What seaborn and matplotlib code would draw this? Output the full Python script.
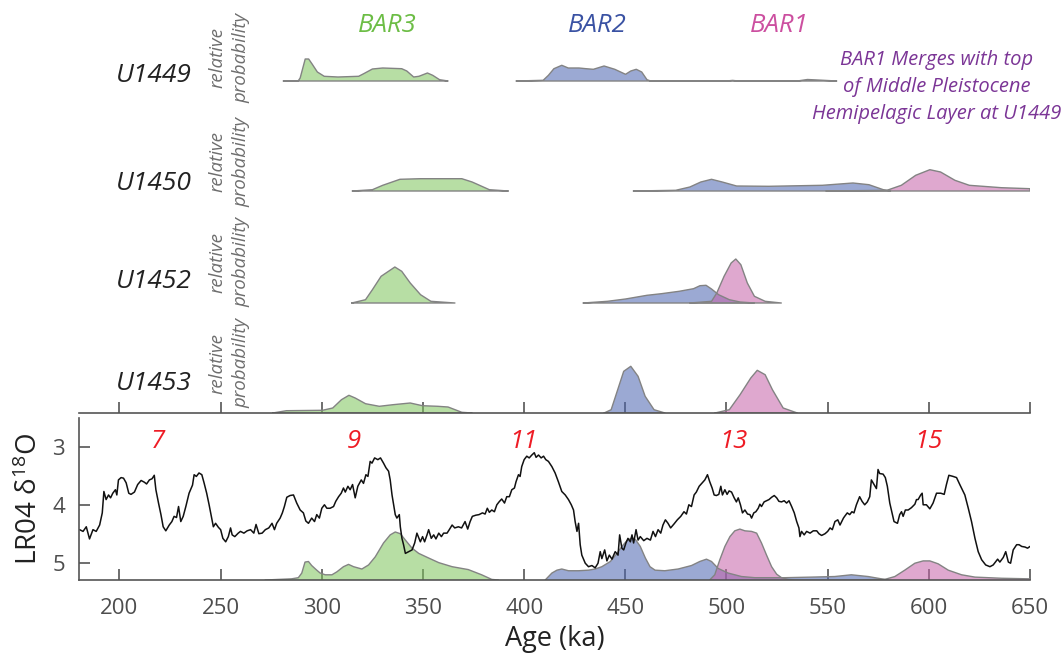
import numpy as np
import pandas as pd
import matplotlib
matplotlib.use("Agg")
import matplotlib.pyplot as plt
import seaborn as sns

# ---- data ----
# LR04 benthic d18O stack
lr04_age = [180.3, 182, 183.6, 185.2, 186.9, 188.5, 190.2, 191.5, 192.3, 193.4, 194.6, 195.6, 196.7, 198, 198.7,
            199.5, 200.8, 202, 203.3, 204.6, 205.7, 207.4, 209, 210.7, 212.3, 213.4, 214.8, 216.1, 217.2, 218,
            219.3, 220.5, 221.6, 222.9, 224.6, 225.9, 227, 228.2, 229.2, 230.3, 231.5, 232.8, 234.4, 236.1, 236.9,
            238, 239.3, 240.7, 241.8, 243.1, 244.3, 245.6, 246.4, 247.5, 248.9, 250, 251.1, 252.5, 253.8, 254.9,
            255.7, 257, 258.7, 259.8, 261.5, 263.1, 264.8, 266.4, 267.5, 268.9, 270.5, 272.1, 273.8, 275.4, 276.6,
            277.7, 279.4, 280.5, 281.5, 282.7, 284.3, 286, 287.6, 289.3, 290.9, 292.1, 293.4, 295, 296.4, 297.5,
            298.8, 300, 301.3, 302.5, 304.1, 305.8, 306.9, 308.3, 309.6, 310.7, 311.6, 312.9, 314, 315.2, 316.5,
            317.8, 319.5, 320.6, 321.8, 322.8, 323.9, 324.8, 326.1, 327.7, 329, 330.5, 331.7, 333, 333.8, 334.7,
            335.5, 336.3, 337.1, 338.3, 338.8, 339.6, 340.4, 341.3, 342.9, 344.6, 345.9, 347, 348.7, 349.8, 350.8,
            352, 352.8, 354.1, 355.3, 356.4, 357.8, 359.1, 360.2, 361.9, 363, 364.4, 365.7,
            367.5, 369.1, 370.8, 372.1, 373.3, 374.4, 376.1, 377.7, 379.4, 380.7, 381.8, 382.8, 384, 385.3, 386.5,
            387.6, 388.9, 390.3, 391.4, 392.7, 393.9, 395.2, 396, 397.2, 398, 398.8, 400, 401.3, 402.5, 403.8,
            405, 405.9, 407.1, 408.4, 409.6, 410.7, 412, 413.7, 415.3, 416.9, 418.6, 420.3, 421.9, 423.3, 424.4,
            425.2, 426.1, 426.9, 427.7, 428.5, 430.2, 431.8, 433.5, 435.1, 436.5, 437.6, 438.4, 439.8, 440.9, 442.1,
            443.4, 445, 446.4, 447.2, 448.3, 449.2, 450.3, 451.3, 452.5, 453.3, 454.1, 455.3, 456.3, 457.4, 459.1,
            460.7, 462.4, 463.7, 464.9, 466.2, 467.5, 468.6, 469.8, 471.1, 472.4, 474.1, 475.7, 477.4, 479, 480.2,
            481.4, 482.7, 484, 485.1, 486.5, 488, 489.3, 490.6, 491.7, 492.9, 493.9, 495, 496.2, 497.2, 498,
            499.2, 500.3, 501.3, 502.5, 503.8, 504.9, 505.8, 506.9, 507.9, 509.1, 510.4, 511.6, 512.4, 513.5, 514.5,
            515.7, 516.5, 517.3, 518.6, 519.8, 521, 522.3, 523.6, 524.8, 525.9, 527.2, 528.5, 529.7, 530.9, 532.2,
            533.5, 534.7, 535.8, 536.3, 537.1, 538.4, 539.6, 541.3, 542.9, 544.6, 545.7, 547, 548.7, 550, 551.2,
            552.3, 553.6, 555, 556.1, 557.8, 558.4, 559.7, 560.9, 562, 563, 564.2, 565.8, 567, 568.3, 569.6,
            570.8, 571.6, 572.9, 574.1, 574.9, 575.7, 577.4, 578.5, 579.5, 580.7, 581.8, 582.8, 584.5, 585.6, 586.5,
            587.3, 588.4, 589.8, 591.4, 593.1, 593.9, 594.7, 596, 596.7, 597.2, 598.8, 600.5, 602.1, 603.8, 605.9,
            607.6, 608.7, 609.9, 612, 613.7, 615.3, 617.8, 619.5, 621.1, 622.8, 624.4, 626.1, 628.1, 630.2, 631.8,
            634, 635.1, 636.8, 638, 639.3, 640.4, 641.7, 643.4, 644.6, 645.9, 647.5, 648.8, 650]
lr04_d18o = [4.43, 4.46, 4.38, 4.59, 4.43, 4.46, 4.35, 4.14, 3.77, 3.91, 3.83, 3.88, 3.80, 3.74, 3.83,
             3.57, 3.53, 3.54, 3.62, 3.80, 3.82, 3.78, 3.65, 3.58, 3.61, 3.64, 3.57, 3.55, 3.49, 3.74,
             3.97, 4.17, 4.38, 4.45, 4.35, 4.29, 4.20, 4.22, 4.03, 4.29, 4.20, 4.03, 3.80, 3.66, 3.48,
             3.51, 3.45, 3.48, 3.62, 3.80, 4.00, 4.23, 4.38, 4.32, 4.39, 4.43, 4.58, 4.64, 4.55, 4.40,
             4.52, 4.55, 4.49, 4.46, 4.49, 4.45, 4.43, 4.49, 4.34, 4.50, 4.49, 4.43, 4.40, 4.32, 4.43,
             4.32, 4.23, 4.14, 4.03, 3.87, 3.84, 3.83, 3.97, 4.09, 4.14, 4.28, 4.32, 4.23, 4.29, 4.17,
             4.23, 4.06, 4.00, 4.06, 4.06, 4.03, 3.94, 3.86, 3.80, 3.71, 3.78, 3.68, 3.74, 3.65, 3.88,
             3.68, 3.57, 3.63, 3.48, 3.51, 3.25, 3.28, 3.19, 3.22, 3.19, 3.28, 3.36, 3.42, 3.57, 3.83,
             4.00, 4.17, 4.23, 4.17, 4.38, 4.58, 4.69, 4.84, 4.81, 4.78, 4.66, 4.49, 4.64, 4.55, 4.64,
             4.52, 4.43, 4.58, 4.52, 4.59, 4.49, 4.55, 4.49, 4.49, 4.43, 4.35, 4.40,
             4.38, 4.40, 4.29, 4.42, 4.29, 4.20, 4.18, 4.17, 4.14, 4.16, 4.06, 4.13, 4.09, 4.12, 4.00,
             3.95, 3.90, 3.97, 3.86, 3.86, 3.74, 3.71, 3.60, 3.48, 3.51, 3.34, 3.22, 3.16, 3.19, 3.14,
             3.10, 3.18, 3.14, 3.19, 3.16, 3.22, 3.25, 3.34, 3.45, 3.60, 3.77, 3.83, 3.91, 4.00, 4.09,
             4.29, 4.46, 4.32, 4.69, 4.87, 5.01, 5.07, 5.05, 5.09, 5.01, 4.81, 4.93, 4.78, 4.97, 4.87,
             4.94, 4.81, 4.87, 4.52, 4.75, 4.78, 4.66, 4.58, 4.64, 4.52, 4.66, 4.43, 4.61, 4.55, 4.62,
             4.58, 4.61, 4.46, 4.55, 4.43, 4.49, 4.35, 4.26, 4.32, 4.40, 4.33, 4.26, 4.20, 4.12, 4.16,
             4.00, 4.03, 3.83, 3.78, 3.68, 3.62, 3.57, 3.48, 3.60, 3.71, 3.83, 3.84, 3.82, 3.68, 3.83,
             3.74, 3.82, 3.76, 3.78, 3.88, 3.95, 3.88, 4.00, 4.14, 4.09, 4.16, 4.17, 4.23, 4.14, 4.12,
             4.06, 3.99, 4.03, 3.95, 3.93, 3.91, 3.87, 3.84, 3.88, 3.94, 3.95, 3.93, 3.97, 3.93, 4.03,
             4.14, 4.29, 4.40, 4.55, 4.46, 4.52, 4.46, 4.49, 4.45, 4.45, 4.50, 4.53, 4.50, 4.46, 4.40,
             4.43, 4.29, 4.26, 4.35, 4.23, 4.20, 4.14, 4.17, 4.12, 4.14, 4.00, 3.86, 3.94, 4.00, 3.95,
             3.86, 3.57, 3.65, 3.72, 3.39, 3.46, 3.47, 3.53, 3.68, 3.97, 4.14, 4.29, 4.32, 4.17, 4.12,
             4.20, 4.09, 4.09, 4.05, 3.99, 3.91, 3.91, 3.83, 3.80, 4.00, 4.00, 4.07, 3.97, 3.80, 3.80,
             3.82, 3.65, 3.49, 3.51, 3.53, 3.65, 3.83, 4.06, 4.29, 4.58, 4.81, 4.95, 5.04, 5.07, 5.04,
             4.94, 4.99, 4.91, 4.81, 4.99, 5.01, 4.78, 4.69, 4.69, 4.72, 4.73, 4.75, 4.72]

# marine isotope stages (label, age)
mis_labels = ["7", "9", "11", "13", "15"]
mis_ages = [218.8, 315.6, 399.6, 503.4, 599.7]

sites = ["U1449", "U1450", "U1452", "U1453"]

# relative probability per site and BAR (age, value)
u1449_bar3_age = [281, 288.4, 289.3, 291.8, 293.5, 295.2, 297.8, 301.2, 308, 318.2, 320.7, 325, 330.1, 339.5,
                  342, 345.4, 348, 352.2, 354.8, 358.2, 362.4]
u1449_bar3_p = [0, 0.3, 3, 22, 22, 17, 9, 4.7, 4, 4.7, 7.3, 12, 13, 12.3, 10, 4, 4.7, 8, 5.7, 1.3, 0]
u1449_bar2_age = [396.1, 409.4, 412, 414.7, 418.6, 421.8, 427.1, 430.6, 434.2, 439.5, 444.8, 450.1, 452.7, 455.4,
                  458.1, 460.7, 462.5, 500, 503, 506, 535, 540, 547, 554.5]
u1449_bar2_p = [0, 0.7, 5.7, 12.3, 15.7, 13, 13, 12.3, 11.7, 15, 11.7, 6.7, 10, 11.7, 9, 1.3, 0, 0, 0.6, 0, 0,
                1.5, 0.8, 0]

u1450_bar3_age = [315.1, 325, 330.1, 338.6, 348.8, 362.4, 369.2, 374.3, 382.8, 392.2]
u1450_bar3_p = [0, 1.3, 5.7, 11.7, 12.3, 12.3, 12.3, 9, 1.3, 0]
u1450_bar2_age = [454, 474.9, 481.9, 487.3, 492.6, 497.9, 505, 520.9, 547.4, 562.5, 570.4, 577.5, 581.1]
u1450_bar2_p = [0, 0.7, 4, 9, 11.7, 9, 5, 4.7, 5.7, 8, 6.3, 1.3, 0]
u1450_bar1_age = [549.2, 579.3, 586.4, 593.5, 600.5, 605.8, 612.9, 620, 635.9, 650]
u1450_bar1_p = [0, 0.7, 5.7, 15.7, 21.3, 19, 10.7, 5.7, 3.3, 2.3]

u1452_bar3_age = [314.8, 321.6, 325, 329.3, 336.1, 339.5, 343.7, 348.8, 353.9, 365.8]
u1452_bar3_p = [0, 3.3, 13.3, 26.7, 36, 31.7, 20, 8.3, 1.7, 0]
u1452_bar2_age = [429.2, 441.2, 450.1, 460.7, 467.8, 476.6, 483.7, 486.9, 489.9, 492.6, 496.1, 501.4, 506.7, 513.8]
u1452_bar2_p = [0, 1.7, 4, 7.7, 9.3, 11.7, 14.3, 17.3, 17.7, 14, 8.3, 3.3, 1, 0]
u1452_bar1_age = [481.9, 492.6, 495.2, 498.8, 502.3, 504.6, 507.1, 510.3, 513.8, 519.1, 527.1]
u1452_bar1_p = [0, 1.7, 10, 26.7, 40, 44, 38.3, 20, 6.7, 1.7, 0]

u1453_bar3_age = [275.7, 282.5, 300.3, 305.4, 309.7, 313.4, 316.5, 321.6, 328.4, 335.2, 343.7, 349.7, 357.3,
                  362.4, 369.2, 374.3]
u1453_bar3_p = [0, 2.3, 2.7, 5, 13.3, 17.7, 15, 9.3, 6.7, 8.3, 10, 7.3, 6.7, 6, 0.7, 0]
u1453_bar2_age = [439.5, 443, 445.7, 449.2, 452.7, 456.3, 459.8, 464.2, 469.6]
u1453_bar2_p = [0, 3.3, 20, 41.7, 46.7, 36.7, 16.7, 3.3, 0]
u1453_bar1_age = [494.3, 501.4, 506.7, 512, 515.2, 519.1, 522.7, 528, 535]
u1453_bar1_p = [0, 3.3, 18.3, 35, 42.7, 38.3, 23.3, 5, 0]

# summed probabilities drawn in the LR04 panel (upper edge, in d18O units)
stack_bar3_age = [272, 285, 288.4, 290.1, 291.7, 293.4, 295, 297.5, 299.2, 301.7, 305, 307.4, 310.7, 313.2,
                  315.7, 319.8, 323.1, 326.4, 330.5, 333.8, 336.3, 338.8, 341.3, 344.6, 347.9, 352.8, 357.8,
                  364.4, 372.4, 379, 384, 387.3]
stack_bar3_d18o = [5.30, 5.28, 5.26, 5.18, 4.99, 4.98, 5.05, 5.13, 5.18, 5.21, 5.21, 5.16, 5.07, 5.03,
                   5.07, 5.11, 5.04, 4.90, 4.66, 4.52, 4.47, 4.50, 4.61, 4.75, 4.84, 4.92, 5.00,
                   5.07, 5.12, 5.21, 5.29, 5.30]
stack_bar2_age = [410.4, 413.7, 416.2, 418.6, 421.9, 426.9, 431.8, 435.1, 438.4, 442.6, 445.9, 448.3, 450.8,
                  453.3, 455, 457.4, 459.9, 462.2, 464.7, 469.5, 476.1, 482.7, 486.8, 490.1, 492.6, 495.9,
                  500.8, 507.4, 514, 528.9, 542.1, 553.5, 561.7, 570, 578.2, 579.9]
stack_bar2_d18o = [5.30, 5.18, 5.13, 5.11, 5.14, 5.14, 5.13, 5.11, 5.07, 4.98, 4.84, 4.72, 4.62,
                   4.57, 4.60, 4.72, 4.92, 5.07, 5.13, 5.14, 5.11, 5.05, 4.98, 4.94, 4.98, 5.10,
                   5.18, 5.24, 5.26, 5.26, 5.25, 5.24, 5.21, 5.24, 5.29, 5.30]
stack_bar1_age = [491.7, 494.2, 496.7, 499.2, 501.7, 504.1, 506.6, 509.1, 512.4, 514.9, 517.3, 519.8, 522.3,
                  524.8, 527.2, 530.5, 533.8, 560, 578.2, 583.2, 588.1, 593.1, 597.2, 600.5, 604.6, 609.6,
                  616.2, 622.8, 636, 650]
stack_bar1_d18o = [5.30, 5.21, 4.95, 4.72, 4.55, 4.45, 4.42, 4.45, 4.46, 4.49, 4.66, 4.87, 5.07,
                   5.20, 5.26, 5.29, 5.30, 5.30, 5.29, 5.24, 5.13, 5.01, 4.97, 4.97, 5.02, 5.13,
                   5.21, 5.25, 5.27, 5.28]

# ---- style ----
sns.set_theme(style="ticks")
plt.rcParams['font.family'] = ['Open Sans', 'DejaVu Sans']
plt.rcParams['mathtext.default'] = 'regular'

W, H = 1062, 658
green = '#7cc45a'
blue = '#4a63b0'
pink = '#c561a8'
edge = '#838383'
axcol = '#555555'
alpha = 0.55

fig = plt.figure(figsize=(W / 100, H / 100), dpi=100)


def fx(px):
    return px / W


def fy(py):
    return 1 - py / H


ax_top = fig.add_axes([fx(79), fy(413), fx(1030) - fx(79), fy(0) - fy(413)])
ax_bot = fig.add_axes([fx(79), fy(580), fx(1030) - fx(79), fy(418) - fy(580)])

# ---- top panel: relative probability per site ----
offsets = {"U1449": 332, "U1450": 222, "U1452": 110, "U1453": 0}
curves = [
    ("U1449", u1449_bar3_age, u1449_bar3_p, green),
    ("U1449", u1449_bar2_age, u1449_bar2_p, blue),
    ("U1450", u1450_bar3_age, u1450_bar3_p, green),
    ("U1450", u1450_bar2_age, u1450_bar2_p, blue),
    ("U1450", u1450_bar1_age, u1450_bar1_p, pink),
    ("U1452", u1452_bar3_age, u1452_bar3_p, green),
    ("U1452", u1452_bar2_age, u1452_bar2_p, blue),
    ("U1452", u1452_bar1_age, u1452_bar1_p, pink),
    ("U1453", u1453_bar3_age, u1453_bar3_p, green),
    ("U1453", u1453_bar2_age, u1453_bar2_p, blue),
    ("U1453", u1453_bar1_age, u1453_bar1_p, pink),
]
for site, a, p, c in curves:
    base = offsets[site]
    top = np.array(p) + base
    ax_top.fill_between(a, base, top, facecolor=c, alpha=alpha, edgecolor='none')
    ax_top.plot(list(a) + [a[-1], a[0]], list(top) + [base, base], color=edge, lw=1.0)

ax_top.set_xlim(180, 650)
ax_top.set_ylim(0, 413)
ax_top.set_yticks([])
ax_top.set_xticks(range(200, 651, 50))
ax_top.tick_params(axis='x', direction='in', length=8, width=1.2, color=axcol, labelbottom=False)
for s in ['top', 'right', 'left']:
    ax_top.spines[s].set_visible(False)
ax_top.spines['bottom'].set_color(axcol)
ax_top.spines['bottom'].set_linewidth(1.2)
ax_top.patch.set_alpha(0)

# BAR headings and note
ax_top.text(332.4, 388, "BAR3", color='#6cbd45', fontsize=18.5, style='italic', ha='center', va='center')
ax_top.text(436.2, 388, "BAR2", color='#3a52a3', fontsize=18.5, style='italic', ha='center', va='center')
ax_top.text(526.0, 388, "BAR1", color='#cc4fa0', fontsize=18.5, style='italic', ha='center', va='center')
ax_top.text(604, 326, "BAR1 Merges with top\nof Middle Pleistocene\nHemipelagic Layer at U1449",
            color='#7b3596', fontsize=14.5, style='italic', ha='center', va='center',
            linespacing=1.45, clip_on=False)

# site names and axis words
site_y = [75, 184, 282, 383]
prob_y = [58, 162, 262, 363]
for s, yl, yp in zip(sites, site_y, prob_y):
    fig.text(fx(154), fy(yl), s, fontsize=19, style='italic', color='#222222', ha='center', va='center')
    fig.text(fx(217), fy(yp), "relative", fontsize=13.5, style='italic', color='#6e6e6e',
             rotation=90, ha='center', va='center')
    fig.text(fx(241), fy(yp), "probability", fontsize=13.5, style='italic', color='#6e6e6e',
             rotation=90, ha='center', va='center')

# ---- bottom panel: LR04 with summed probabilities ----
for a, d, c in [(stack_bar3_age, stack_bar3_d18o, green),
                (stack_bar2_age, stack_bar2_d18o, blue),
                (stack_bar1_age, stack_bar1_d18o, pink)]:
    ax_bot.fill_between(a, 5.3, d, facecolor=c, alpha=alpha, edgecolor='none')
    ax_bot.plot(a, d, color=edge, lw=1.0)

lr04 = pd.DataFrame({"age": lr04_age, "d18o": lr04_d18o})
sns.lineplot(data=lr04, x="age", y="d18o", ax=ax_bot, color='#111111', lw=1.1,
             estimator=None, sort=False)

for lab, a in zip(mis_labels, mis_ages):
    ax_bot.text(a, 2.9, lab, color='#ee1c25', fontsize=18.5, style='italic', ha='center', va='center')

ax_bot.set_xlim(180, 650)
ax_bot.set_ylim(5.3, 2.5)
ax_bot.set_xticks(range(200, 651, 50))
ax_bot.set_yticks([3, 4, 5])
ax_bot.tick_params(direction='in', length=8, width=1.2, color=axcol, labelcolor='#4d4d4d',
                   labelsize=16)
ax_bot.tick_params(axis='x', pad=13)
ax_bot.tick_params(axis='y', pad=10)
for s in ['top', 'right']:
    ax_bot.spines[s].set_visible(False)
for s in ['left', 'bottom']:
    ax_bot.spines[s].set_color(axcol)
    ax_bot.spines[s].set_linewidth(1.2)
ax_bot.set_xlabel("Age (ka)", fontsize=19.5, color='#222222', labelpad=4)
ax_bot.set_ylabel("LR04 δ$^{18}$O", fontsize=20, color='#222222', labelpad=6)

fig.savefig("out.png", dpi=100)
